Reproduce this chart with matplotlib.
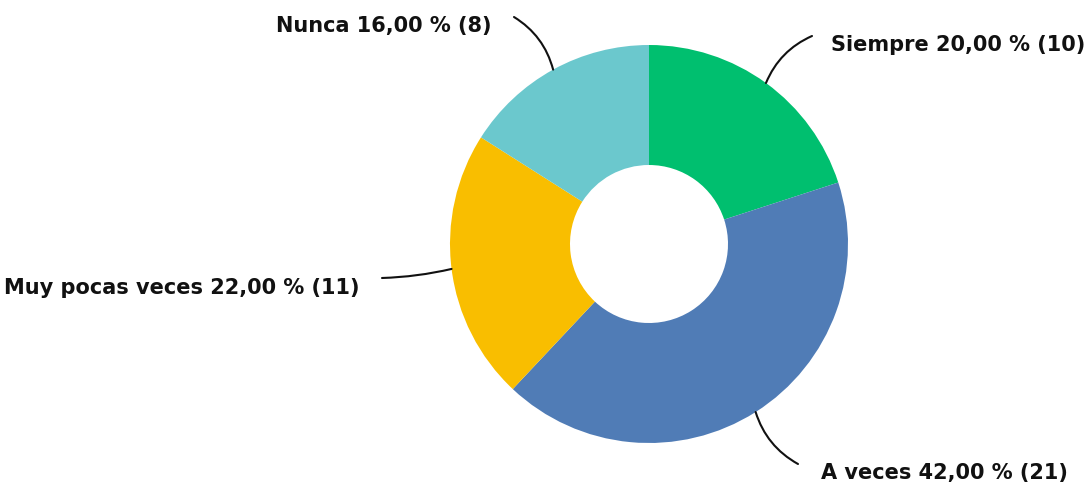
import numpy as np
import matplotlib
matplotlib.use("Agg")
import matplotlib.pyplot as plt

categories = ["Siempre", "A veces", "Muy pocas veces", "Nunca"]
percents = [20.00, 42.00, 22.00, 16.00]
counts = [10, 21, 11, 8]
colors = ["#00BF6F", "#507CB6", "#F9BE00", "#6BC8CD"]

W, H = 1090, 485
fig = plt.figure(figsize=(W / 100, H / 100), dpi=100)
ax = fig.add_axes([0, 0, 1, 1])
ax.set_xlim(0, W)
ax.set_ylim(0, H)
ax.set_aspect("equal")
ax.axis("off")

cx, cy = 649, H - 245
R = 199
wedges, _ = ax.pie(counts, colors=colors, startangle=90, counterclock=False,
                   radius=R, center=(cx, cy),
                   wedgeprops=dict(width=120, linewidth=0))
ax.set_xlim(0, W)
ax.set_ylim(0, H)

# label text anchors (pixel coords from top) and curve of leader lines
text_pos = [(831, 45, "left"), (821, 473, "left"), (359, 288, "right"), (491, 26, "right")]
line_end = [(812, 37), (798, 465), (382, 279), (514, 18)]
rads = [0.2, -0.2, 0.05, -0.2]

for w, cat, p, n, (tx, ty, ha), (ex, ey), rad in zip(wedges, categories, percents, counts,
                                                       text_pos, line_end, rads):
    ang = np.deg2rad((w.theta1 + w.theta2) / 2)
    px, py = cx + R * np.cos(ang), cy + R * np.sin(ang)
    label = f"{cat} {p:.2f} % ({n})".replace(".", ",")
    ax.annotate("", xy=(px, py), xytext=(ex, H - ey),
                arrowprops=dict(arrowstyle="-", color="#111111", lw=1.5,
                                shrinkA=0, shrinkB=0,
                                connectionstyle=f"arc3,rad={rad}"))
    ax.text(tx, H - ty, label, ha=ha, va="center", fontsize=15,
            fontweight="bold", family=["DejaVu Sans"], color="#111111")

fig.savefig("out.png", dpi=100)
